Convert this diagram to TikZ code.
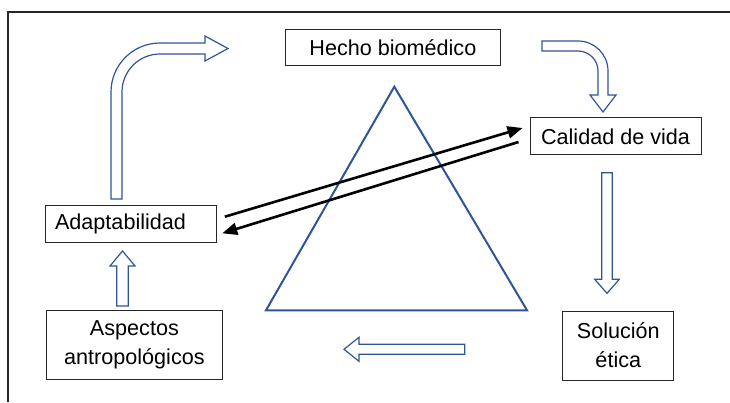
\documentclass[tikz,border=0pt]{standalone}
\usepackage{fontspec}
\setmainfont{Liberation Sans}
\usetikzlibrary{arrows.meta}
\definecolor{OfficeBlue}{RGB}{47,85,151}

\begin{document}
\begin{tikzpicture}[x=1pt,y=-1pt,->,>={Triangle[length=15pt,width=12pt]},thick,
    box node/.style={draw=black!85,line width=1pt,inner sep=0pt,align=center,font=\fontsize{21.6}{29}\selectfont},
    block arrow/.style={-,draw=OfficeBlue,line width=1.2pt,fill=white,line join=miter},
    link/.style={->,line width=2.6pt,black}]
            \useasboundingbox (0,0) rectangle (730,402);
            \draw[-,black!85,line width=1.5pt] (730,12) -- (8,12) -- (8,402);

            \node[box node,minimum width=215.7,minimum height=35.7] (hecho) at (392.9,47.2) {Hecho biomédico};
            \node[box node,minimum width=171,minimum height=37.3] (calidad) at (615.5,136.3) {Calidad de vida};
            \node[box node,text width=151.7,inner xsep=10,minimum height=36.7,align=left] (adapt) at (130.9,224.3) {Adaptabilidad};
            \node[box node,minimum width=176.7,minimum height=68.6] (aspectos) at (134.4,345) {Aspectos\\antropológicos};
            \node[box node,minimum width=111.3,minimum height=69] (solucion) at (618.3,345.5) {Solución\\ética};

            % triangulo
            \draw[-,OfficeBlue,line width=2pt,line join=miter] (394.3,86.7) -- (527,310.3) -- (266,310.3) -- cycle;

            % flechas de bloque
            \draw[block arrow] (111,199) -- (111,92) arc[start angle=180,end angle=270,radius=49]
                -- (205,43) -- (205,36) -- (228,48.5) -- (205,61) -- (205,54) -- (160,54)
                arc[start angle=270,end angle=180,radius=38] -- (122,199) -- cycle;
            \draw[block arrow] (542,41) -- (578,41) arc[start angle=270,end angle=360,radius=30]
                -- (608,95) -- (616,95) -- (603,112) -- (590,95) -- (598,95) -- (598,71)
                arc[start angle=0,end angle=-90,radius=20] -- (542,51) -- cycle;
            \draw[block arrow] (601.7,172.7) -- (612.3,172.7) -- (612.3,279.3) -- (619.3,279.3)
                -- (607,293.3) -- (594.7,279.3) -- (601.7,279.3) -- cycle;
            \draw[block arrow] (116.7,306) -- (116.7,266) -- (110,266) -- (122.5,251)
                -- (135,266) -- (128.3,266) -- (128.3,306) -- cycle;
            \draw[block arrow] (464.7,344.3) -- (359,344.3) -- (359,337.3) -- (344,349.3)
                -- (359,361.3) -- (359,354.3) -- (464.7,354.3) -- cycle;

            \draw[link] ([xshift=7.6pt,yshift=7.6pt]adapt.east) -- ([xshift=-7pt,yshift=8.3pt]calidad.west);
            \draw[link] ([xshift=-11pt,yshift=-5.7pt]calidad.west) -- ([xshift=5pt,yshift=-9pt]adapt.east);
        \end{tikzpicture}
\end{document}
